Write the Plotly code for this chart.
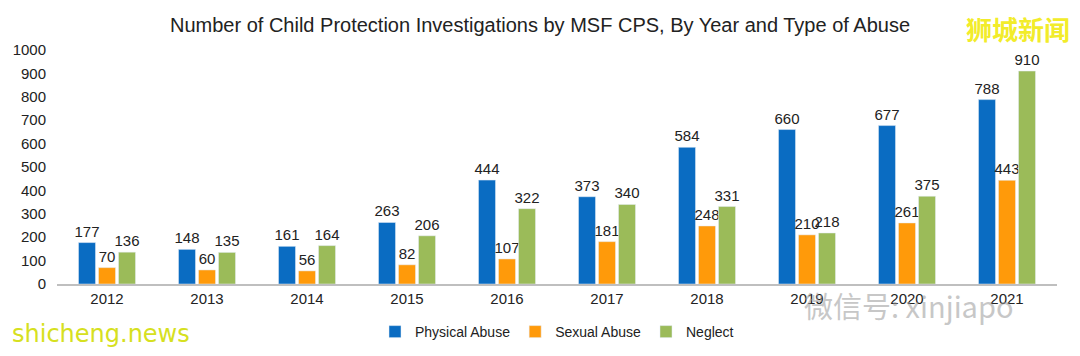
import plotly.graph_objects as go

years = ["2012", "2013", "2014", "2015", "2016", "2017", "2018", "2019", "2020", "2021"]
physical = [177, 148, 161, 263, 444, 373, 584, 660, 677, 788]
sexual = [70, 60, 56, 82, 107, 181, 248, 210, 261, 443]
neglect = [136, 135, 164, 206, 322, 340, 331, 218, 375, 910]
y_ticks = [0, 100, 200, 300, 400, 500, 600, 700, 800, 900, 1000]

series = [
    ("Physical Abuse", physical, "#0A6CC2"),
    ("Sexual Abuse", sexual, "#FF9A0A"),
    ("Neglect", neglect, "#9BBB59"),
]

fig = go.Figure()
for name, vals, color in series:
    fig.add_trace(go.Bar(
        x=years, y=vals, name=name, marker_color=color,
        text=[str(v) for v in vals], textposition="outside", constraintext="none",
        textfont=dict(size=15, color="#222222"), cliponaxis=False,
    ))

# page body has an 8px margin, so the figure is sized to fit inside it
fig.update_layout(
    width=1064, height=340,
    margin=dict(l=49, r=15, t=42, b=64, autoexpand=False),
    paper_bgcolor="white", plot_bgcolor="white",
    font=dict(family="Liberation Sans, Arial, sans-serif", size=15, color="#222222"),
    title=dict(text="Number of Child Protection Investigations by MSF CPS, By Year and Type of Abuse",
               x=0.5, xanchor="center", y=0.95, yanchor="middle",
               font=dict(size=20, color="#222222")),
    barmode="group", bargap=0.4, bargroupgap=0.15,
    showlegend=True,
    legend=dict(orientation="h", x=0.5, xanchor="center", yref="container", y=0.047,
                yanchor="middle", font=dict(size=14), itemwidth=30, traceorder="normal"),
)
fig.update_xaxes(showline=True, linecolor="#BFBFBF", linewidth=1.5, ticks="",
                 tickfont=dict(size=15))
fig.update_yaxes(range=[0, 1000], tickvals=y_ticks, showgrid=False, zeroline=False,
                 showline=False, ticks="", tickfont=dict(size=15), ticklabelstandoff=10)

fig.add_annotation(text="<b>狮城新闻</b>", xref="paper", yref="paper", x=1.015, y=1.09,
                   xanchor="right", yanchor="middle", showarrow=False,
                   font=dict(size=26, color="#F2EC2A", family="Noto Sans CJK SC"))
fig.add_annotation(text="shicheng.news", xref="paper", yref="paper", x=-0.047, y=-0.215,
                   xanchor="left", yanchor="middle", showarrow=False,
                   font=dict(size=24, color="#D6E020", family="DejaVu Sans"))
fig.add_annotation(text="微信号: xinjiapo", xref="paper", yref="paper", x=0.852, y=-0.09,
                   xanchor="center", yanchor="middle", showarrow=False, opacity=0.55,
                   font=dict(size=29, color="#9A9A9A", family="Noto Sans CJK SC"))

fig.write_html("out.html")
